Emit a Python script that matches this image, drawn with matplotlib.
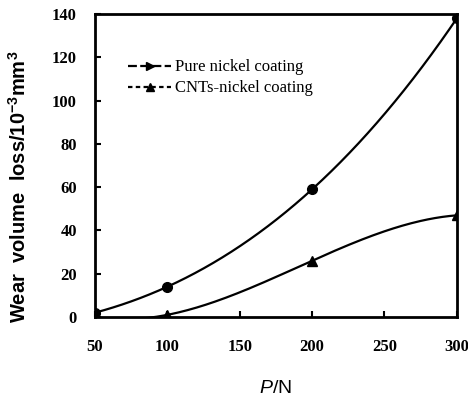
import numpy as np
import matplotlib
matplotlib.use("Agg")
import matplotlib.pyplot as plt

plt.rcParams['mathtext.fontset'] = 'custom'
plt.rcParams['mathtext.rm'] = 'Liberation Sans'
plt.rcParams['mathtext.it'] = 'Liberation Sans:italic'
plt.rcParams['mathtext.bf'] = 'Liberation Sans:bold'

load_pure = [50, 100, 200, 300]
wear_pure = [2, 14, 59, 138]
load_cnt = [50, 100, 200, 300]
wear_cnt = [0, 1, 26, 47]
xticks = [50, 100, 150, 200, 250, 300]
yticks = [0, 20, 40, 60, 80, 100, 120, 140]

fig = plt.figure(figsize=(4.68, 3.98), dpi=100)
ax = fig.add_axes([0.203, 0.2035, 0.773, 0.761])

def smooth(x, y):
    c = np.polyfit(x, y, len(x) - 1)
    xs = np.linspace(min(x), max(x), 200)
    return xs, np.polyval(c, xs)

xs, ys = smooth(load_pure, wear_pure)
ax.plot(xs, ys, color='black', lw=1.6)
ax.plot(load_pure, wear_pure, 'o', color='black', ms=7, ls='none')
xs, ys = smooth(load_cnt, wear_cnt)
ax.plot(xs, ys, color='black', lw=1.6)
ax.plot(load_cnt, wear_cnt, '^', color='black', ms=7, ls='none')

h1, = ax.plot([], [], color='black', lw=1.6, ls=(0, (4, 1.5)), marker='>', ms=6)
h2, = ax.plot([], [], color='black', lw=1.6, ls=(0, (2, 1.5)), marker='^', ms=6)
leg = ax.legend([h1, h2], ['Pure nickel coating', 'CNTs-nickel coating'],
                loc='upper left', bbox_to_anchor=(0.05, 0.9), frameon=False,
                prop={'family': 'Liberation Serif', 'size': 12},
                handlelength=2.6, handletextpad=0.2, labelspacing=0.3)

ax.set_xlim(50, 300)
ax.set_ylim(0, 140)
ax.set_xticks(xticks)
ax.set_yticks(yticks)
for lbl in ax.get_xticklabels() + ax.get_yticklabels():
    lbl.set_family('Liberation Serif')
    lbl.set_fontweight('bold')
    lbl.set_fontsize(12)
ax.tick_params(direction='in', length=4, width=1.5)
ax.tick_params(axis='y', pad=13)
ax.tick_params(axis='x', pad=16)
for s in ax.spines.values():
    s.set_linewidth(2)

ax.set_xlabel('$\\mathit{P}$/N', fontsize=14, family='Liberation Sans', labelpad=18)
ax.set_ylabel('Wear  volume  loss/$\\mathbf{10^{-3}mm^{3}}$', fontsize=14.5,
              family='Liberation Sans', fontweight='bold')
ax.yaxis.set_label_coords(-0.18, 0.43)

fig.savefig('out.png', dpi=100)
